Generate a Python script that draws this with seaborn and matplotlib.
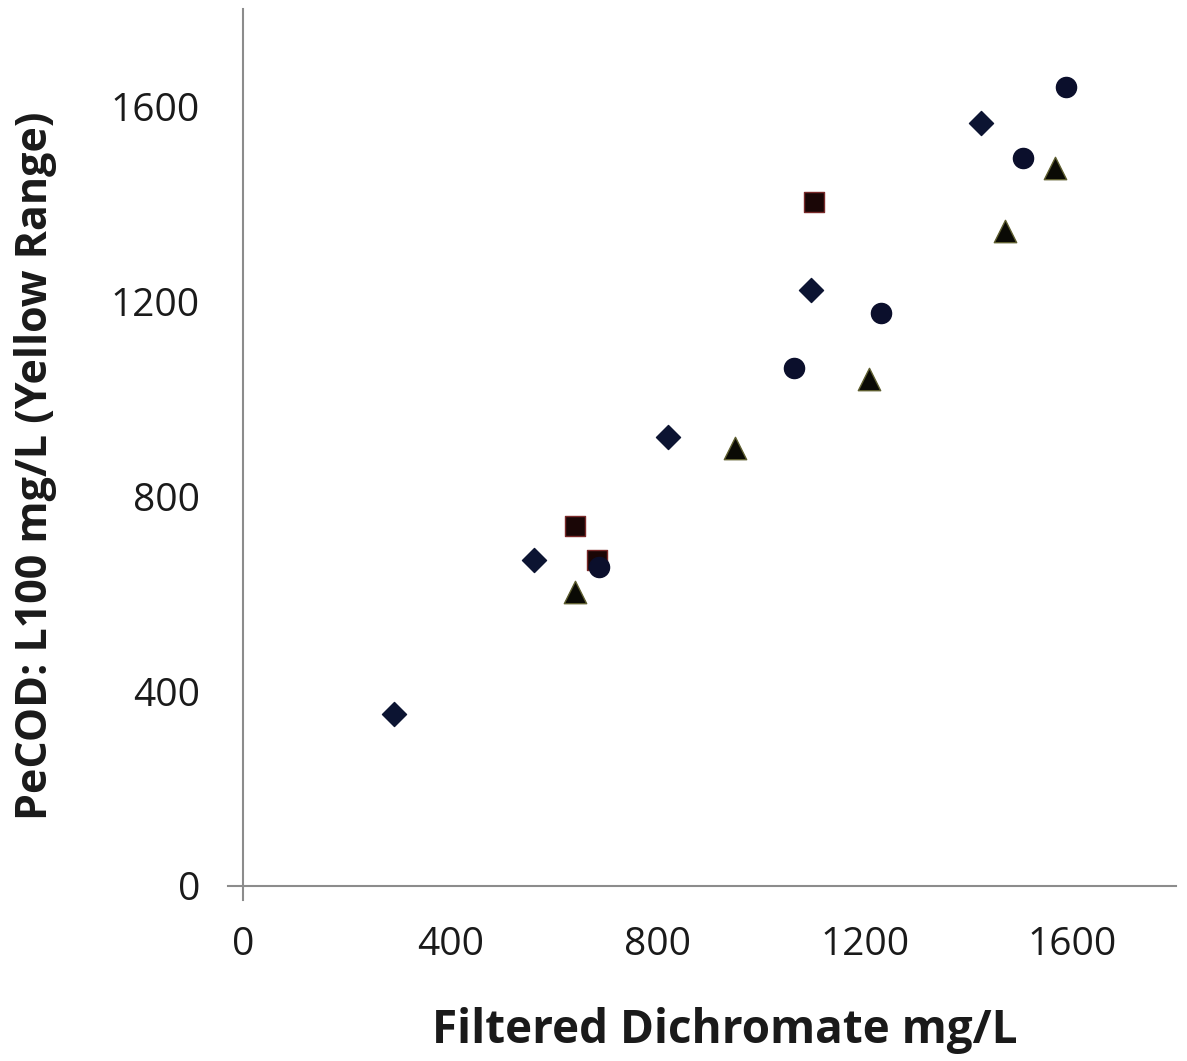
import matplotlib.pyplot as plt
import seaborn as sns
import pandas as pd

# values
diamond_x = [291, 562, 820, 1095, 1423]
diamond_y = [353, 669, 922, 1224, 1567]

square_x = [641, 683, 1102]
square_y = [739, 669, 1404]

circle_x = [687, 1064, 1230, 1504, 1587]
circle_y = [655, 1064, 1177, 1495, 1641]

triangle_x = [641, 950, 1207, 1471, 1566]
triangle_y = [604, 899, 1041, 1345, 1474]

x_ticks = [0, 400, 800, 1200, 1600]
y_ticks = [0, 400, 800, 1200, 1600]

sns.set_style("white")
plt.rcParams["font.family"] = ["Open Sans", "DejaVu Sans"]

fig = plt.figure(figsize=(11.87, 10.61), dpi=100)
ax = fig.add_axes([0.192, 0.1517, 0.7987, 0.8394])

series = [
    (diamond_x, diamond_y, "D", 150, "#0c1432", "#0c1432"),
    (square_x, square_y, "s", 200, "#1a0606", "#7a2a2a"),
    (circle_x, circle_y, "o", 210, "#0b0f2c", "#0b0f2c"),
    (triangle_x, triangle_y, "^", 260, "#0a0a05", "#5e5e30"),
]
for xs, ys, mk, size, fc, ec in series:
    df = pd.DataFrame({"x": xs, "y": ys})
    sns.scatterplot(data=df, x="x", y="y", marker=mk, s=size, color=fc,
                    edgecolor=ec, linewidth=1, ax=ax, zorder=3)

ax.set_xlim(-29, 1800)
ax.set_ylim(-29, 1800)
ax.spines["left"].set_position(("data", 0))
ax.spines["bottom"].set_position(("data", 0))
for side in ["top", "right"]:
    ax.spines[side].set_visible(False)
for side in ["left", "bottom"]:
    ax.spines[side].set_color("#8c8c8c")
    ax.spines[side].set_linewidth(1.5)

ax.set_xticks(x_ticks)
ax.set_yticks(y_ticks)
ax.tick_params(axis="both", direction="inout", length=14, width=1.5,
               color="#8c8c8c", labelsize=28, labelcolor="#1a1a1a")
ax.tick_params(axis="x", pad=22)
ax.tick_params(axis="y", pad=24)

fig.text(0.611, 0.029, "Filtered Dichromate mg/L", ha="center", va="center",
         fontsize=33, fontweight="bold", color="#1a1a1a")
fig.text(0.0295, 0.561, "PeCOD: L100 mg/L (Yellow Range)", ha="center",
         va="center", rotation=90, fontsize=31, fontweight="bold",
         color="#1a1a1a")

ax.set_xlabel("")
ax.set_ylabel("")
fig.savefig("out.png", dpi=100)
